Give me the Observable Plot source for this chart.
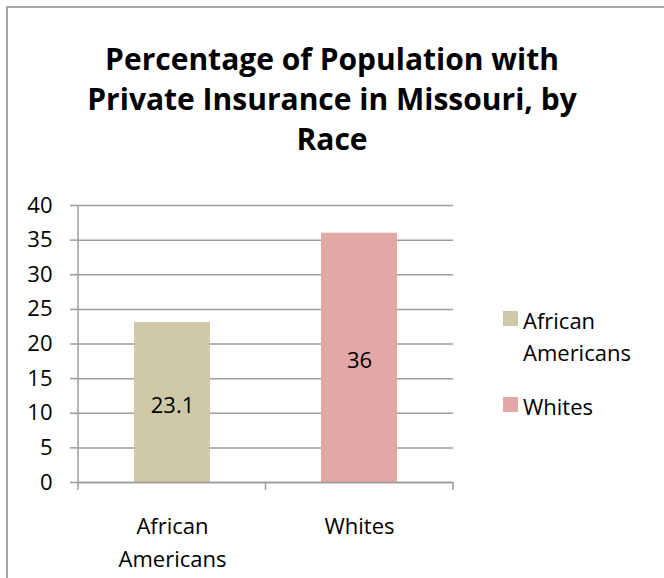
<!DOCTYPE html>
<html>
<head>
<meta charset="utf-8">
<script src="https://cdn.jsdelivr.net/npm/d3@7"></script>
<script src="https://cdn.jsdelivr.net/npm/@observablehq/plot@0.6"></script>
<style>
  body { margin: 0; background: #fff; font-family: "Open Sans", sans-serif; }
  #wrap { position: relative; width: 664px; height: 578px; overflow: hidden; background: #fff; }
  #frame { position: absolute; left: 6px; top: 6px; width: 800px; height: 800px; border: 2px solid #a6a6a6; box-sizing: border-box; }
  #title { position: absolute; left: 0; top: 39px; width: 664px; text-align: center; font-weight: bold; font-size: 30px; line-height: 40px; color: #000; }
  #chart { position: absolute; left: 0; top: 190px; }
  .leg { position: absolute; font-size: 22px; line-height: 32px; color: #000; width: 130px; }
  .sw { position: absolute; width: 15px; height: 15px; }
</style>
</head>
<body>
<div id="wrap">
  <div id="frame"></div>
  <div id="title"></div>
  <div id="chart"></div>
  <div id="legend"></div>
</div>
<script>
const titleLines = ["Percentage of Population with", "Private Insurance in Missouri, by", "Race"];
const categories = ["African Americans", "Whites"];
const categoryLabels = ["African\nAmericans", "Whites"];
const values = [23.1, 36];
const colors = ["#CEC8A6", "#E1A8A6"];
const yTicks = [0, 5, 10, 15, 20, 25, 30, 35, 40];

const gridColor = "#9c9c9c";
document.getElementById("title").innerHTML = titleLines.join("<br>");

const data = categories.map((c, i) => ({category: c, value: values[i], label: categoryLabels[i]}));

function boundaryTicks(index, scales, values_, dims) {
  const {marginLeft, marginRight, marginTop, marginBottom, width, height} = dims;
  const n = categories.length;
  const w = (width - marginLeft - marginRight) / n;
  const y0 = height - marginBottom;
  const g = d3.create("svg:g").attr("stroke", gridColor).attr("stroke-width", 1.5);
  g.append("line").attr("x1", marginLeft).attr("x2", marginLeft).attr("y1", marginTop).attr("y2", y0);
  for (let i = 0; i <= n; i++) {
    const x = marginLeft + i * w;
    g.append("line").attr("x1", x).attr("x2", x).attr("y1", y0).attr("y2", y0 + 8);
  }
  return g.node();
}

const chart = Plot.plot({
  width: 664,
  height: 388,
  marginTop: 15,
  marginBottom: 96,
  marginLeft: 78,
  marginRight: 211,
  style: {fontFamily: "Open Sans", fontSize: "22px", color: "#000", background: "transparent", overflow: "visible"},
  x: {domain: categories, paddingInner: 0.595, paddingOuter: 0.2975, axis: null},
  y: {domain: [0, 40]},
  color: {domain: categories, range: colors},
  marks: [
    Plot.ruleY(yTicks, {stroke: gridColor, strokeWidth: 1.5}),
    Plot.barY(data, {x: "category", y: "value", fill: "category"}),
    Plot.ruleY([0], {stroke: gridColor, strokeWidth: 1.5}),
    boundaryTicks,
    Plot.text(data, {x: "category", y: d => d.value / 2, text: d => String(d.value), fontSize: 22, dy: 3, fill: "#000"}),
    Plot.axisY({ticks: yTicks, tickSize: 8, tickPadding: 18, stroke: gridColor, strokeWidth: 1.5, fill: "#000", fontSize: 22, label: null}),
    Plot.text(data, {x: "category", text: "label", frameAnchor: "bottom", lineAnchor: "top", dy: 28, lineHeight: 1.5, fontSize: 22, fill: "#000"})
  ]
});
document.getElementById("chart").appendChild(chart);

const legend = document.getElementById("legend");
const legTops = [311, 397];
categories.forEach((c, i) => {
  const sw = document.createElement("div");
  sw.className = "sw";
  sw.style.left = "503px";
  sw.style.top = legTops[i] + "px";
  sw.style.background = colors[i];
  legend.appendChild(sw);
  const t = document.createElement("div");
  t.className = "leg";
  t.style.left = "523px";
  t.style.top = (legTops[i] - 7.5) + "px";
  t.textContent = c;
  legend.appendChild(t);
});
</script>
</body>
</html>
